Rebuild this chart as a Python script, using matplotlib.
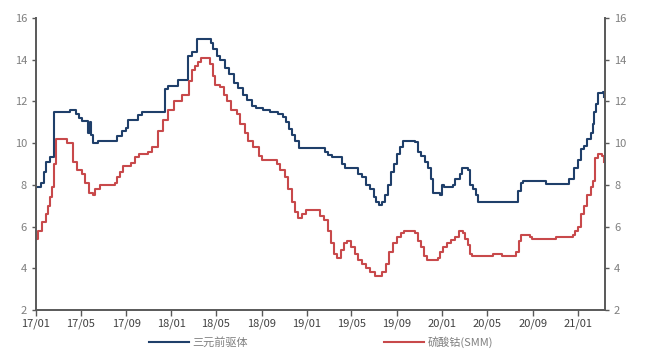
import matplotlib
matplotlib.use("Agg")
import matplotlib.pyplot as plt
import matplotlib.dates as mdates
import pandas as pd

plt.rcParams["font.family"] = ["Noto Sans CJK SC", "DejaVu Sans"]
plt.rcParams["axes.unicode_minus"] = False

# 三元前驱体 (change points, value held until next date)
blue_dates = [
    "2017-01-01", "2017-01-14", "2017-01-23", "2017-01-28", "2017-02-08", "2017-02-19",
    "2017-04-03", "2017-04-19", "2017-04-27", "2017-05-05", "2017-05-21", "2017-05-27",
    "2017-05-29", "2017-06-04", "2017-06-17", "2017-08-07", "2017-08-21", "2017-09-01",
    "2017-09-06", "2017-10-03", "2017-10-14", "2017-12-15", "2017-12-23", "2018-01-19",
    "2018-02-15", "2018-02-26", "2018-03-11", "2018-04-18", "2018-04-23", "2018-05-04",
    "2018-05-12", "2018-05-26", "2018-06-05", "2018-06-19", "2018-06-30", "2018-07-13",
    "2018-07-24", "2018-08-06", "2018-08-17", "2018-09-05", "2018-09-24", "2018-10-15",
    "2018-10-29", "2018-11-06", "2018-11-14", "2018-11-22", "2018-11-30", "2018-12-11",
    "2019-02-19", "2019-02-27", "2019-03-10", "2019-04-06", "2019-04-14", "2019-05-19",
    "2019-05-30", "2019-06-10", "2019-06-20", "2019-07-01", "2019-07-07", "2019-07-15",
    "2019-07-23", "2019-07-31", "2019-08-08", "2019-08-16", "2019-08-24", "2019-09-01",
    "2019-09-09", "2019-09-17", "2019-10-20", "2019-10-28", "2019-11-05", "2019-11-16",
    "2019-11-24", "2019-12-02", "2019-12-07", "2019-12-26", "2020-01-01", "2020-01-06",
    "2020-01-30", "2020-02-05", "2020-02-18", "2020-02-23", "2020-03-11", "2020-03-16",
    "2020-03-24", "2020-04-01", "2020-04-07", "2020-07-21", "2020-07-23", "2020-08-01",
    "2020-08-06", "2020-10-07", "2020-12-08", "2020-12-21", "2020-12-30", "2021-01-09",
    "2021-01-17", "2021-01-25", "2021-02-03", "2021-02-11", "2021-02-13", "2021-02-19",
    "2021-02-24", "2021-03-10", "2021-03-12",
]
blue_values = [
    7.9, 8.1, 8.6, 9.1, 9.35, 11.5,
    11.6, 11.4, 11.2, 11.05, 10.5, 11.0,
    10.4, 10.0, 10.1, 10.35, 10.6, 10.75,
    11.1, 11.35, 11.5, 12.6, 12.75, 13.05,
    14.2, 14.35, 15.0, 14.8, 14.5, 14.2,
    14.0, 13.6, 13.3, 12.9, 12.65, 12.3,
    12.05, 11.8, 11.7, 11.6, 11.5, 11.4,
    11.25, 11.0, 10.7, 10.4, 10.1, 9.75,
    9.6, 9.45, 9.35, 9.0, 8.8, 8.5,
    8.4, 8.0, 7.8, 7.4, 7.2, 7.05,
    7.2, 7.5, 8.0, 8.6, 9.0, 9.5,
    9.8, 10.1, 10.05, 9.6, 9.4, 9.1,
    8.8, 8.3, 7.6, 7.5, 8.0, 7.9,
    8.0, 8.3, 8.5, 8.8, 8.7, 8.0,
    7.8, 7.5, 7.2, 7.2, 7.7, 8.1,
    8.2, 8.05, 8.3, 8.8, 9.2, 9.7,
    9.85, 10.2, 10.5, 10.9, 11.5, 11.9,
    12.4, 12.45, 12.2,
]

# 硫酸钴(SMM)
red_dates = [
    "2017-01-01", "2017-01-06", "2017-01-17", "2017-01-28", "2017-02-02", "2017-02-08",
    "2017-02-13", "2017-02-19", "2017-02-24", "2017-03-26", "2017-04-11", "2017-04-22",
    "2017-05-05", "2017-05-13", "2017-05-24", "2017-06-04", "2017-06-09", "2017-06-23",
    "2017-08-02", "2017-08-07", "2017-08-15", "2017-08-24", "2017-09-14", "2017-09-25",
    "2017-10-06", "2017-10-30", "2017-11-10", "2017-11-26", "2017-12-09", "2017-12-23",
    "2018-01-08", "2018-01-30", "2018-02-17", "2018-02-26", "2018-03-06", "2018-03-14",
    "2018-03-22", "2018-04-15", "2018-04-23", "2018-04-29", "2018-05-12", "2018-05-23",
    "2018-05-31", "2018-06-11", "2018-06-27", "2018-07-05", "2018-07-18", "2018-07-27",
    "2018-08-09", "2018-08-25", "2018-09-02", "2018-10-13", "2018-10-21", "2018-11-03",
    "2018-11-11", "2018-11-22", "2018-11-30", "2018-12-08", "2018-12-19", "2018-12-30",
    "2019-01-26", "2019-02-06", "2019-02-16", "2019-02-27", "2019-03-07", "2019-03-15",
    "2019-03-23", "2019-04-03", "2019-04-11", "2019-04-19", "2019-04-30", "2019-05-11",
    "2019-05-19", "2019-05-30", "2019-06-10", "2019-06-20", "2019-07-04", "2019-07-23",
    "2019-08-03", "2019-08-11", "2019-08-21", "2019-09-01", "2019-09-12", "2019-09-20",
    "2019-10-20", "2019-10-28", "2019-11-05", "2019-11-13", "2019-11-21", "2019-12-21",
    "2019-12-26", "2020-01-03", "2020-01-14", "2020-01-25", "2020-02-05", "2020-02-15",
    "2020-02-26", "2020-03-03", "2020-03-11", "2020-03-16", "2020-03-21", "2020-05-09",
    "2020-05-17", "2020-06-10", "2020-07-18", "2020-07-26", "2020-08-01", "2020-08-25",
    "2020-08-30", "2020-11-03", "2020-12-19", "2020-12-24", "2021-01-01", "2021-01-09",
    "2021-01-17", "2021-01-25", "2021-02-03", "2021-02-11", "2021-02-16", "2021-02-24",
    "2021-03-07", "2021-03-12",
]
red_values = [
    5.4, 5.8, 6.2, 6.6, 7.0, 7.4,
    7.9, 9.0, 10.2, 10.0, 9.1, 8.7,
    8.5, 8.1, 7.6, 7.5, 7.8, 8.0,
    8.1, 8.4, 8.6, 8.9, 9.05, 9.35,
    9.5, 9.6, 9.8, 10.6, 11.1, 11.6,
    12.0, 12.3, 13.0, 13.5, 13.7, 13.9,
    14.1, 13.8, 13.2, 12.8, 12.7, 12.3,
    12.0, 11.6, 11.4, 10.9, 10.5, 10.1,
    9.8, 9.4, 9.2, 9.0, 8.7, 8.4,
    7.8, 7.2, 6.7, 6.4, 6.6, 6.8,
    6.8, 6.5, 6.3, 5.8, 5.2, 4.7,
    4.5, 4.9, 5.2, 5.3, 5.0, 4.7,
    4.4, 4.2, 4.0, 3.8, 3.65, 3.8,
    4.2, 4.8, 5.2, 5.5, 5.7, 5.8,
    5.7, 5.3, 5.0, 4.6, 4.4, 4.5,
    4.8, 5.0, 5.2, 5.35, 5.5, 5.8,
    5.7, 5.4, 5.1, 4.7, 4.6, 4.6,
    4.7, 4.6, 4.8, 5.3, 5.6, 5.5,
    5.4, 5.5, 5.6, 5.8, 6.0, 6.6,
    7.0, 7.5, 7.9, 8.2, 9.3, 9.5,
    9.4, 9.1,
]

blue_label = "三元前驱体"
red_label = "硫酸钴(SMM)"
blue_color = "#1F3F6A"
red_color = "#C8494B"
axis_color = "#595959"
text_color = "#7F7F7F"

blue_x = pd.to_datetime(blue_dates)
red_x = pd.to_datetime(red_dates)

fig = plt.figure(figsize=(6.46, 3.54), dpi=100)
ax = fig.add_axes([0.0557, 0.1243, 0.8808, 0.8247])
ax2 = ax.twinx()

ax.plot(blue_x, blue_values, drawstyle="steps-post", color=blue_color, linewidth=1.5, label=blue_label)
ax.plot(red_x, red_values, drawstyle="steps-post", color=red_color, linewidth=1.5, label=red_label)

ax.set_xlim(pd.Timestamp("2017-01-01"), pd.Timestamp("2021-03-14"))
for a in (ax, ax2):
    a.set_ylim(2, 16)
    a.set_yticks(range(2, 17, 2))
    a.spines["top"].set_visible(False)
    for side in ("left", "right", "bottom"):
        a.spines[side].set_color(axis_color)
        a.spines[side].set_linewidth(1.4)
    a.tick_params(axis="y", colors=axis_color, labelcolor=text_color, labelsize=8, length=3, width=1, direction="out")

ax.spines["right"].set_visible(False)
ax2.spines["left"].set_visible(False)
ax2.spines["bottom"].set_visible(False)

ax.xaxis.set_major_locator(mdates.MonthLocator(bymonth=[1, 5, 9]))
ax.xaxis.set_major_formatter(mdates.DateFormatter("%y/%m"))
ax.tick_params(axis="x", colors=axis_color, labelcolor="#404040", labelsize=8, length=4, width=1, direction="out", pad=2)

handles, labels = ax.get_legend_handles_labels()
fig.legend(handles, labels, loc="lower center", bbox_to_anchor=(0.497, -0.01), ncol=2,
           frameon=False, fontsize=8, labelcolor=text_color, handlelength=3.6,
           columnspacing=12.2, handletextpad=0.3)

fig.savefig("out.png", dpi=100)
